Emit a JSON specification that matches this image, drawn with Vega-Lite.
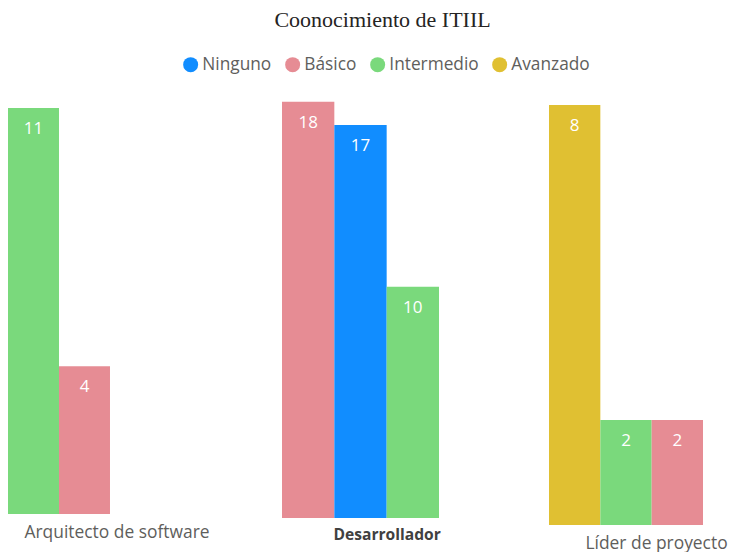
{
  "$schema": "https://vega.github.io/schema/vega-lite/v6.json",
  "padding": {"left": 8, "top": 9, "right": 5, "bottom": 5},
  "bounds": "flush",
  "title": {"text": "Coonocimiento de ITIIL", "font": "Liberation Serif", "fontSize": 22, "fontWeight": "normal", "color": "#252423", "anchor": "middle", "dx": 15, "offset": 24},
  "data": {"values": [
    {"rol": "Arquitecto de software", "nivel": "Intermedio", "n": 11},
    {"rol": "Arquitecto de software", "nivel": "Básico", "n": 4},
    {"rol": "Desarrollador", "nivel": "Básico", "n": 18},
    {"rol": "Desarrollador", "nivel": "Ninguno", "n": 17},
    {"rol": "Desarrollador", "nivel": "Intermedio", "n": 10},
    {"rol": "Líder de proyecto", "nivel": "Avanzado", "n": 8},
    {"rol": "Líder de proyecto", "nivel": "Intermedio", "n": 2},
    {"rol": "Líder de proyecto", "nivel": "Básico", "n": 2}
  ]},
  "spacing": 110,
  "hconcat": [
    {
      "transform": [{"filter": "datum.rol === 'Arquitecto de software'"}],
      "width": 164, "height": 418,
      "encoding": {
        "x": {"field": "nivel", "type": "nominal", "scale": {"domain": ["Intermedio", "Básico", "Ninguno"], "paddingInner": 0, "paddingOuter": 0.108, "align": 0},
              "axis": {"labels": false, "ticks": false, "domain": false, "title": "Arquitecto de software", "titleFont": "Open Sans", "titleFontSize": 17.4, "titleFontWeight": "normal", "titleColor": "#605E5C", "titlePadding": 9, "titleAnchor": "start", "titleX": 16}},
        "y": {"field": "n", "type": "quantitative", "scale": {"domain": [0, 11.325], "nice": false}, "axis": null}
      },
      "layer": [
        {"mark": {"type": "bar"}, "encoding": {"color": {"field": "nivel", "type": "nominal", "scale": {"domain": ["Ninguno", "Básico", "Intermedio", "Avanzado"], "range": ["#118DFF", "#E68C94", "#7AD97C", "#E0C032"]}}}},
        {"mark": {"type": "text", "baseline": "middle", "dy": 21, "color": "white", "font": "Open Sans", "fontSize": 17}, "encoding": {"text": {"field": "n"}}}
      ]
    },
    {
      "transform": [{"filter": "datum.rol === 'Desarrollador'"}],
      "width": 157, "height": 422,
      "encoding": {
        "x": {"field": "nivel", "type": "nominal", "scale": {"domain": ["Básico", "Ninguno", "Intermedio"], "paddingInner": 0, "paddingOuter": 0},
              "axis": {"labels": false, "ticks": false, "domain": false, "title": "Desarrollador", "titleFont": "Open Sans", "titleFontSize": 15.6, "titleFontWeight": "bold", "titleColor": "#404040", "titlePadding": 9, "titleAnchor": "start", "titleX": 51}},
        "y": {"field": "n", "type": "quantitative", "scale": {"domain": [0, 18.25], "nice": false}, "axis": null}
      },
      "layer": [
        {"mark": {"type": "bar"}, "encoding": {"color": {"field": "nivel", "type": "nominal", "scale": {"domain": ["Ninguno", "Básico", "Intermedio", "Avanzado"], "range": ["#118DFF", "#E68C94", "#7AD97C", "#E0C032"]}}}},
        {"mark": {"type": "text", "baseline": "middle", "dy": 21, "color": "white", "font": "Open Sans", "fontSize": 17}, "encoding": {"text": {"field": "n"}}}
      ]
    },
    {
      "transform": [{"filter": "datum.rol === 'Líder de proyecto'"}],
      "width": 154, "height": 429,
      "encoding": {
        "x": {"field": "nivel", "type": "nominal", "scale": {"domain": ["Avanzado", "Intermedio", "Básico"], "paddingInner": 0, "paddingOuter": 0},
              "axis": {"labels": false, "ticks": false, "domain": false, "title": "Líder de proyecto", "titleFont": "Open Sans", "titleFontSize": 17.4, "titleFontWeight": "normal", "titleColor": "#605E5C", "titlePadding": 9, "titleAnchor": "start", "titleX": 36}},
        "y": {"field": "n", "type": "quantitative", "scale": {"domain": [0, 8.17], "nice": false}, "axis": null}
      },
      "layer": [
        {"mark": {"type": "bar"}, "encoding": {"color": {"field": "nivel", "type": "nominal", "scale": {"domain": ["Ninguno", "Básico", "Intermedio", "Avanzado"], "range": ["#118DFF", "#E68C94", "#7AD97C", "#E0C032"]}}}},
        {"mark": {"type": "text", "baseline": "middle", "dy": 21, "color": "white", "font": "Open Sans", "fontSize": 17}, "encoding": {"text": {"field": "n"}}}
      ]
    }
  ],
  "resolve": {"scale": {"x": "independent", "y": "independent", "color": "shared"}},
  "config": {
    "view": {"stroke": null},
    "legend": {"orient": "none", "legendX": 174, "legendY": -40, "direction": "horizontal", "title": null, "symbolType": "circle", "symbolSize": 225, "symbolStrokeWidth": 0, "symbolOpacity": 1, "labelFont": "Open Sans", "labelFontSize": 17.3, "labelColor": "#605E5C", "labelOffset": 3, "columnPadding": 12}
  }
}
